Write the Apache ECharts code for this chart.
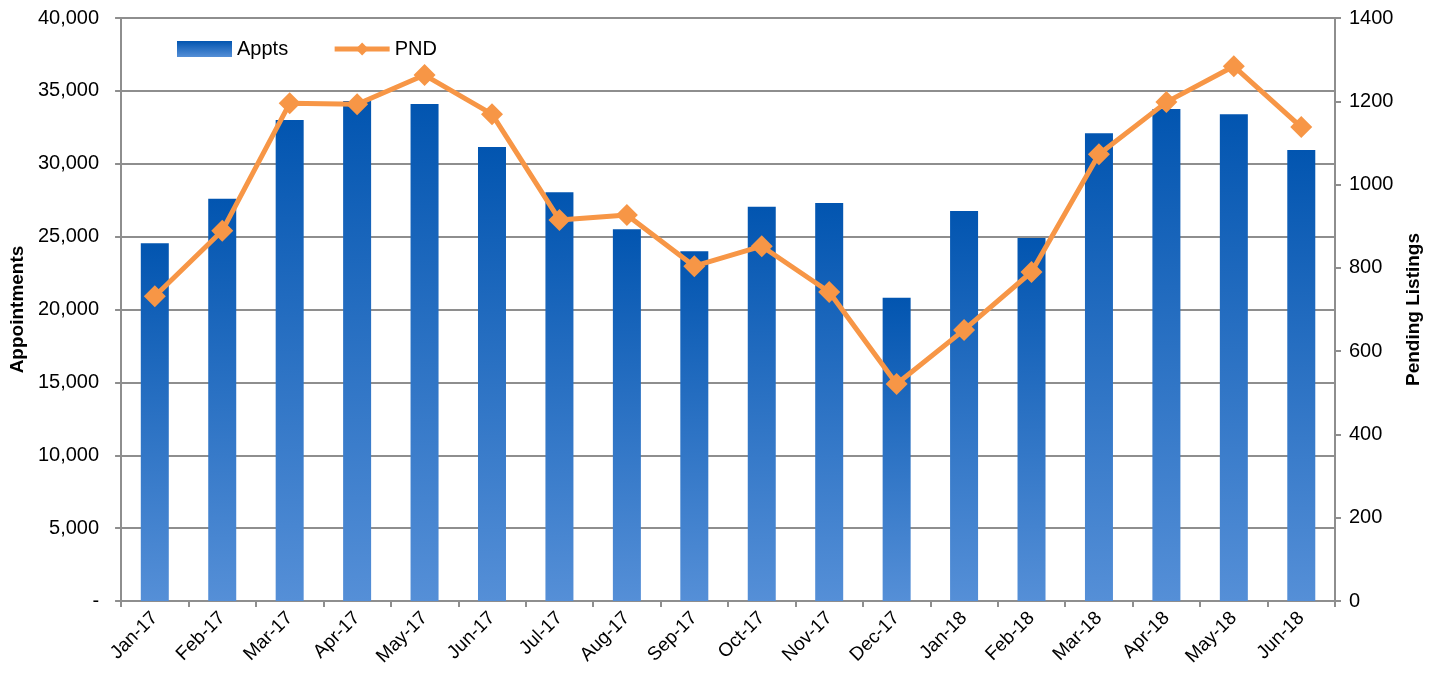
<!DOCTYPE html>
<html>
<head>
<meta charset="utf-8">
<script src="https://cdn.jsdelivr.net/npm/echarts@6/dist/echarts.min.js"></script>
<style>
  html, body { margin: 0; padding: 0; background: #fff; }
  #chart { width: 1439px; height: 677px; }
</style>
</head>
<body>
<div id="chart"></div>
<script>
const months = ['Jan-17', 'Feb-17', 'Mar-17', 'Apr-17', 'May-17', 'Jun-17', 'Jul-17', 'Aug-17', 'Sep-17',
  'Oct-17', 'Nov-17', 'Dec-17', 'Jan-18', 'Feb-18', 'Mar-18', 'Apr-18', 'May-18', 'Jun-18'];
const appts = [24550, 27600, 33000, 34300, 34100, 31150, 28050, 25500, 24000,
  27050, 27300, 20800, 26750, 24900, 32100, 33750, 33400, 30950];
const pnd = [732, 889, 1195, 1193, 1263, 1169, 915, 927, 804,
  852, 742, 521, 651, 790, 1073, 1198, 1284, 1138];

const font = 'Liberation Sans, Arial, sans-serif';
const gridColor = '#8e8e8e';

const barGradient = new echarts.graphic.LinearGradient(0, 0, 0, 1, [
  { offset: 0, color: '#0255b0' },
  { offset: 1, color: '#558fd7' }
]);

const chart = echarts.init(document.getElementById('chart'));

chart.setOption({
  animation: false,
  textStyle: { fontFamily: font },
  grid: { left: 120, right: 104, top: 18, bottom: 76, containLabel: false },
  legend: {
    left: 172,
    top: 34,
    itemGap: 44,
    itemWidth: 55,
    itemHeight: 16,
    textStyle: { fontSize: 20, color: '#000', fontFamily: font },
    data: [
      { name: 'Appts', icon: 'rect' },
      { name: 'PND', lineStyle: { width: 5 } }
    ]
  },
  xAxis: {
    type: 'category',
    data: months,
    axisLine: { lineStyle: { color: gridColor, width: 2 } },
    axisTick: { show: true, length: 6, lineStyle: { color: gridColor, width: 2 } },
    axisLabel: { rotate: 45, color: '#000', fontSize: 19, margin: 14, fontFamily: font }
  },
  yAxis: [
    {
      type: 'value',
      min: 0,
      max: 40000,
      interval: 5000,
      name: 'Appointments',
      nameLocation: 'middle',
      nameGap: 94,
      nameTextStyle: { fontSize: 19, fontWeight: 'bold', color: '#000', fontFamily: font },
      axisLine: { show: true, lineStyle: { color: gridColor, width: 2 } },
      axisTick: { show: true, length: 6, lineStyle: { color: gridColor, width: 2 } },
      splitLine: { lineStyle: { color: gridColor, width: 2 } },
      axisLabel: {
        color: '#000',
        fontSize: 20,
        margin: 22,
        fontFamily: font,
        formatter: v => v === 0 ? '-' : v.toLocaleString('en-US')
      }
    },
    {
      type: 'value',
      min: 0,
      max: 1400,
      interval: 200,
      name: 'Pending Listings',
      nameLocation: 'middle',
      nameGap: 67,
      nameTextStyle: { fontSize: 19, fontWeight: 'bold', color: '#000', fontFamily: font },
      axisLine: { show: true, lineStyle: { color: gridColor, width: 2 } },
      axisTick: { show: true, length: 6, lineStyle: { color: gridColor, width: 2 } },
      splitLine: { show: false },
      axisLabel: { color: '#000', fontSize: 20, margin: 14, fontFamily: font, formatter: v => String(v) }
    }
  ],
  series: [
    {
      name: 'Appts',
      type: 'bar',
      data: appts,
      barWidth: 28,
      itemStyle: { color: barGradient }
    },
    {
      name: 'PND',
      type: 'line',
      yAxisIndex: 1,
      data: pnd,
      symbol: 'diamond',
      symbolSize: 22,
      lineStyle: { color: '#f79646', width: 5 },
      itemStyle: { color: '#f79646' }
    }
  ]
});
</script>
</body>
</html>
